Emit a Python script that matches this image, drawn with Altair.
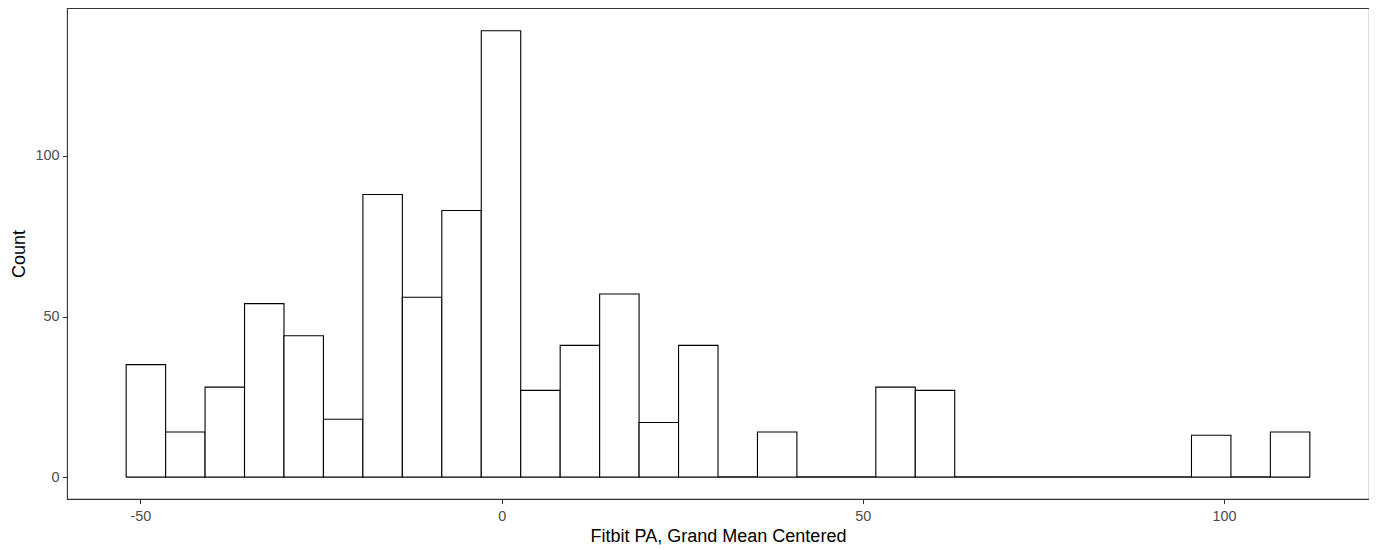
import altair as alt
import pandas as pd

# Histogram counts (30 bins)
counts = [35, 14, 28, 54, 44, 18, 88, 56, 83, 139,
          27, 41, 57, 17, 41, 0, 14, 0, 0, 28,
          27, 0, 0, 0, 0, 0, 0, 13, 0, 14]
first_edge = -51.98
bin_width = 5.462

x_ticks = [-50, 0, 50, 100]
y_ticks = [0, 50, 100]
x_title = "Fitbit PA, Grand Mean Centered"
y_title = "Count"

starts = [first_edge + i * bin_width for i in range(len(counts))]
ends = [s + bin_width for s in starts]
df = pd.DataFrame({"start": starts, "end": ends, "count": counts})

x_scale = alt.Scale(domain=[-60.17, 120.07], nice=False, zero=False)
y_scale = alt.Scale(domain=[-6.85, 146.1], nice=False, zero=False)

axis_common = dict(
    grid=False, domain=False,
    tickColor="#333333", tickSize=4.6, tickWidth=1,
    labelColor="#4D4D4D", labelFont="Liberation Sans", labelFontSize=14.4,
    labelExpr="'' + datum.value",
    titleColor="#000000", titleFont="Liberation Sans", titleFontSize=18,
    titleFontWeight="normal",
)

bars = alt.Chart(df).mark_rect(
    fill="white", stroke="#000000", strokeWidth=1.1
).encode(
    x=alt.X("start:Q", scale=x_scale,
            axis=alt.Axis(values=x_ticks, title=x_title, titlePadding=4,
                          labelPadding=6, **axis_common)),
    x2="end:Q",
    y=alt.Y("count:Q", scale=y_scale,
            axis=alt.Axis(values=y_ticks, title=y_title, titlePadding=6,
                          labelPadding=3.5, **axis_common)),
    y2=alt.datum(0),
)

base_line = alt.Chart(df).mark_rule(color="#000000", strokeWidth=1.1).encode(
    x=alt.X("min(start):Q", scale=x_scale),
    x2="max(end):Q",
    y=alt.datum(0),
)

chart = alt.layer(base_line, bars).properties(
    width=1302, height=491,
    autosize=alt.AutoSizeParams(type="none"),
    padding={"left": 59, "top": 0, "right": 0, "bottom": 49},
    view=alt.ViewBackground(stroke="#333333", strokeWidth=1.1, fill="white"),
).configure_view(
    stroke="#333333", strokeWidth=1.1, fill="white"
).configure(background="white")

chart.save("out.html", embed_options={"renderer": "svg", "actions": False})
